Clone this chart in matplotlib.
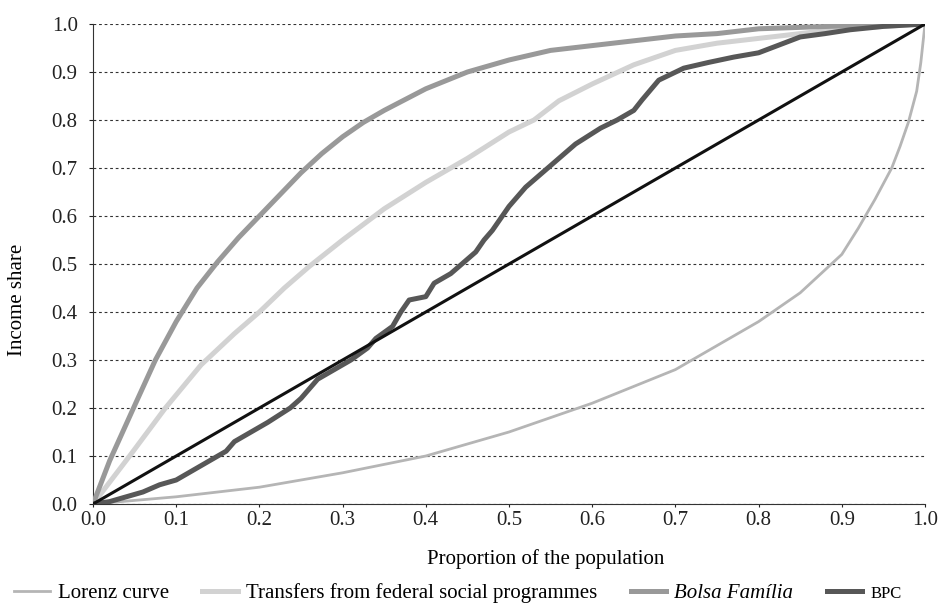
import numpy as np
import matplotlib
matplotlib.use('Agg')
from matplotlib import pyplot as plt
from matplotlib.ticker import FormatStrFormatter

plt.rcParams['font.family'] = ['Liberation Serif', 'DejaVu Serif']

# population share (x) and cumulative income share (y)
lorenz_x = [0.0, 0.1, 0.2, 0.3, 0.4, 0.5, 0.6, 0.7, 0.8, 0.85, 0.9, 0.92, 0.94, 0.96, 0.97, 0.98, 0.99, 0.995, 1.0]
lorenz_y = [0.0, 0.015, 0.035, 0.065, 0.10, 0.15, 0.21, 0.28, 0.38, 0.44, 0.52, 0.575, 0.635, 0.70, 0.745, 0.795, 0.86, 0.92, 1.0]

transfers_x = [0.0, 0.044, 0.087, 0.13, 0.17, 0.2, 0.23, 0.26, 0.3, 0.35, 0.4, 0.45, 0.5,
               0.53, 0.56, 0.6, 0.65, 0.7, 0.75, 0.8, 0.85, 0.9, 0.95, 1.0]
transfers_y = [0.0, 0.10, 0.20, 0.29, 0.355, 0.40, 0.45, 0.495, 0.55, 0.615, 0.67, 0.72, 0.775,
               0.80, 0.84, 0.875, 0.915, 0.945, 0.96, 0.97, 0.98, 0.99, 0.995, 1.0]

bolsa_x = [0.0, 0.02, 0.05, 0.075, 0.1, 0.125, 0.15, 0.175, 0.2, 0.225, 0.25, 0.275,
           0.3, 0.325, 0.35, 0.4, 0.45, 0.5, 0.55, 0.6, 0.65, 0.7, 0.75, 0.8, 0.85, 0.9, 0.95, 1.0]
bolsa_y = [0.0, 0.09, 0.205, 0.30, 0.38, 0.45, 0.505, 0.555, 0.60, 0.645, 0.69, 0.73,
           0.765, 0.795, 0.82, 0.865, 0.90, 0.925, 0.945, 0.955, 0.965, 0.975, 0.98, 0.99, 0.993, 0.996, 0.998, 1.0]

bpc_x = [0.0, 0.02, 0.04, 0.06, 0.08, 0.10, 0.12, 0.14, 0.16, 0.17, 0.18, 0.19, 0.21, 0.237, 0.25, 0.26,
         0.27, 0.29, 0.31, 0.33, 0.34, 0.36, 0.37, 0.38, 0.40, 0.41, 0.43, 0.46, 0.47, 0.48, 0.50,
         0.52, 0.54, 0.56, 0.58, 0.61, 0.63, 0.65, 0.66, 0.68, 0.71, 0.74, 0.77, 0.80, 0.85, 0.88,
         0.91, 0.95, 1.0]
bpc_y = [0.0, 0.005, 0.015, 0.025, 0.04, 0.05, 0.07, 0.09, 0.11, 0.13, 0.14, 0.15, 0.17, 0.20, 0.22, 0.24,
         0.26, 0.28, 0.30, 0.325, 0.345, 0.37, 0.40, 0.425, 0.432, 0.46, 0.48, 0.525, 0.55, 0.57, 0.62,
         0.66, 0.69, 0.72, 0.75, 0.783, 0.80, 0.82, 0.842, 0.883, 0.908, 0.92, 0.931, 0.94, 0.973, 0.98,
         0.988, 0.995, 1.0]

equal_x = [0.0, 0.5, 1.0]
equal_y = [0.0, 0.5, 1.0]

W, H = 941, 603
fig = plt.figure(figsize=(W / 100, H / 100), dpi=100)
ax = fig.add_axes([93 / W, 1 - 504 / H, 832 / W, 480 / H])

ax.plot(lorenz_x, lorenz_y, color='#b5b5b5', lw=2.0, label='Lorenz curve', zorder=3)
ax.plot(transfers_x, transfers_y, color='#d2d2d2', lw=3.6, label='Transfers from federal social programmes', zorder=3)
ax.plot(bolsa_x, bolsa_y, color='#999999', lw=3.6, label='Bolsa Família', zorder=3)
ax.plot(bpc_x, bpc_y, color='#575757', lw=3.6, label='BPC', zorder=4)
ax.plot(equal_x, equal_y, color='#111111', lw=2.2, zorder=5)

ax.set_xlim(0, 1)
ax.set_ylim(0, 1)
ax.set_xticks(np.arange(0, 1.01, 0.1))
ax.set_yticks(np.arange(0, 1.01, 0.1))
ax.xaxis.set_major_formatter(FormatStrFormatter('%.1f'))
ax.yaxis.set_major_formatter(FormatStrFormatter('%.1f'))
ax.tick_params(labelsize=15, width=0.8, colors='#222222')
ax.tick_params(axis='y', length=3, pad=8)
ax.tick_params(axis='x', length=2, pad=3)

ax.yaxis.grid(True, linestyle=(0, (2.5, 2.5)), color='#333333', lw=0.8)
ax.set_axisbelow(True)
for s in ['top', 'right']:
    ax.spines[s].set_visible(False)
for s in ['left', 'bottom']:
    ax.spines[s].set_color('#333333')

# axis titles sit off-centre in the original
fig.text(546 / W, 1 - 559 / H, 'Proportion of the population', fontsize=15, ha='center', va='center')
fig.text(18 / W, 1 - 300 / H, 'Income share', fontsize=15, rotation=90, ha='center', va='center')

leg = fig.legend(loc='center', bbox_to_anchor=(458 / W, 1 - 593 / H), ncol=4, frameon=False,
                 fontsize=15, handlelength=1.7, columnspacing=1.6, handletextpad=0.4,
                 borderpad=0, borderaxespad=0)
leg.get_texts()[2].set_fontstyle('italic')
leg.get_texts()[3].set_fontsize(12)

fig.savefig('out.png', dpi=100)
